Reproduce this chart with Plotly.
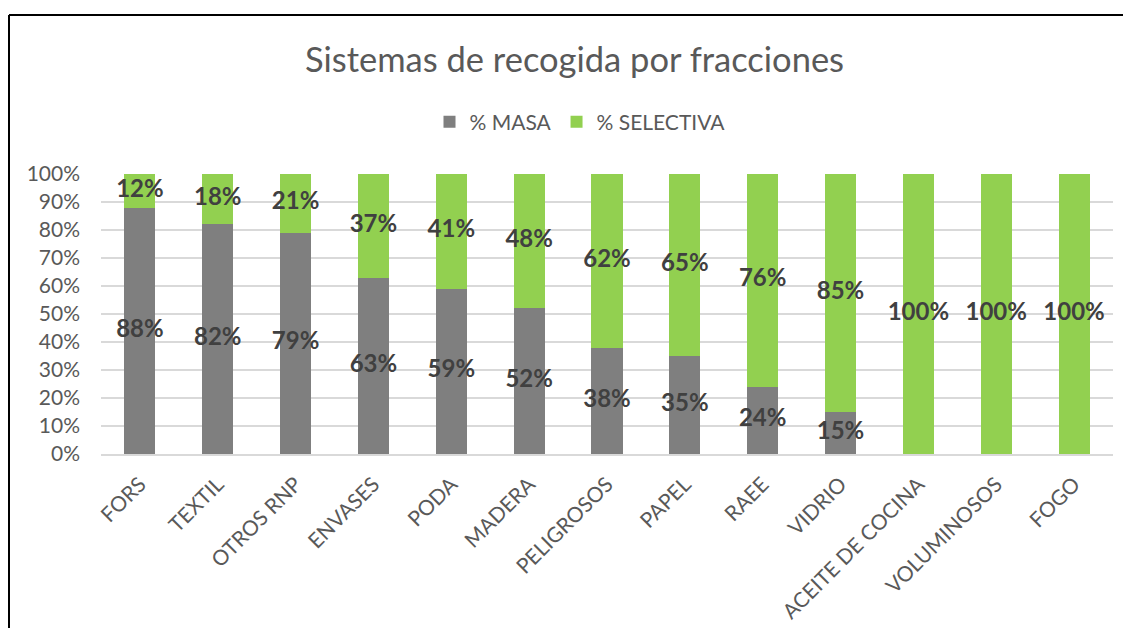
import plotly.graph_objects as go

categories = ["FORS", "TEXTIL", "OTROS RNP", "ENVASES", "PODA", "MADERA", "PELIGROSOS",
              "PAPEL", "RAEE", "VIDRIO", "ACEITE DE COCINA", "VOLUMINOSOS", "FOGO"]
masa = [88, 82, 79, 63, 59, 52, 38, 35, 24, 15, 0, 0, 0]
selectiva = [12, 18, 21, 37, 41, 48, 62, 65, 76, 85, 100, 100, 100]

GRAY = "#7f7f7f"
GREEN = "#92d050"
FONT = "Lato"

fig = go.Figure()
fig.add_trace(go.Bar(x=categories, y=masa, name="% MASA", marker_color=GRAY,
                     marker_line_width=0, hoverinfo="skip"))
fig.add_trace(go.Bar(x=categories, y=selectiva, name="% SELECTIVA", marker_color=GREEN,
                     marker_line_width=0, hoverinfo="skip"))

# data labels centred in each segment
lx, ly, lt = [], [], []
for c, m, s in zip(categories, masa, selectiva):
    if m > 0:
        lx.append(c); ly.append(m / 2); lt.append(f"{m}%")
    if s > 0:
        lx.append(c); ly.append(m + s / 2); lt.append(f"{s}%")
fig.add_trace(go.Scatter(x=lx, y=ly, text=lt, mode="text", showlegend=False,
                         textfont=dict(family=FONT, size=24, color="#404040", weight="bold"),
                         cliponaxis=False, hoverinfo="skip"))

# page body has an 8px margin, so work in figure coordinates = screen - 8
OFF = 8
W, H = 1131 - OFF, 628 - OFF
L = 101 - OFF
T = 174 - OFF
PB = 454 - OFF          # plot bottom (figure px)
PR = 1113 - OFF         # plot right (figure px)
R = W - PR
B = H - PB
pw, ph = W - L - R, H - T - B

def px2x(px):
    return (px - OFF - L) / pw

def py2y(py):
    return (PB - (py - OFF)) / ph

fig.update_layout(
    width=W, height=H,
    barmode="stack", bargap=0.6,
    margin=dict(l=L, r=R, t=T, b=B, autoexpand=False),
    paper_bgcolor="white", plot_bgcolor="white",
    font=dict(family=FONT, color="#595959"),
    title=dict(text="Sistemas de recogida por fracciones",
               x=(574.5 - OFF) / W, xanchor="center",
               y=1 - (60 - OFF) / H, yanchor="middle",
               font=dict(family=FONT, size=34.5, color="#595959")),
    legend=dict(orientation="h", x=px2x(580), xanchor="center", y=py2y(122), yanchor="middle",
                font=dict(family=FONT, size=21, color="#595959"), traceorder="normal",
                itemwidth=30, bgcolor="rgba(0,0,0,0)"),
    xaxis=dict(range=[-0.5, len(categories) - 0.5], type="category",
               tickangle=-45, tickfont=dict(family=FONT, size=21, color="#595959"),
               showgrid=False, showline=True, linecolor="#d9d9d9", linewidth=1.5,
               ticks="", ticklabelstandoff=8, fixedrange=True),
    yaxis=dict(range=[0, 100], tickvals=list(range(0, 101, 10)),
               ticktext=[f"{v}%" for v in range(0, 101, 10)],
               tickfont=dict(family=FONT, size=21, color="#595959"),
               showgrid=True, gridcolor="#d9d9d9", gridwidth=1.5, zeroline=False,
               ticks="", showline=False, ticklabelstandoff=20, fixedrange=True),
    shapes=[
        dict(type="line", xref="paper", yref="paper", x0=px2x(9), x1=px2x(1131 + 20),
             y0=py2y(15), y1=py2y(15), line=dict(color="black", width=2)),
        dict(type="line", xref="paper", yref="paper", x0=px2x(9), x1=px2x(9),
             y0=py2y(15), y1=py2y(628 + 20), line=dict(color="black", width=2)),
    ],
)

fig.write_html("out.html", config={"displayModeBar": False})
